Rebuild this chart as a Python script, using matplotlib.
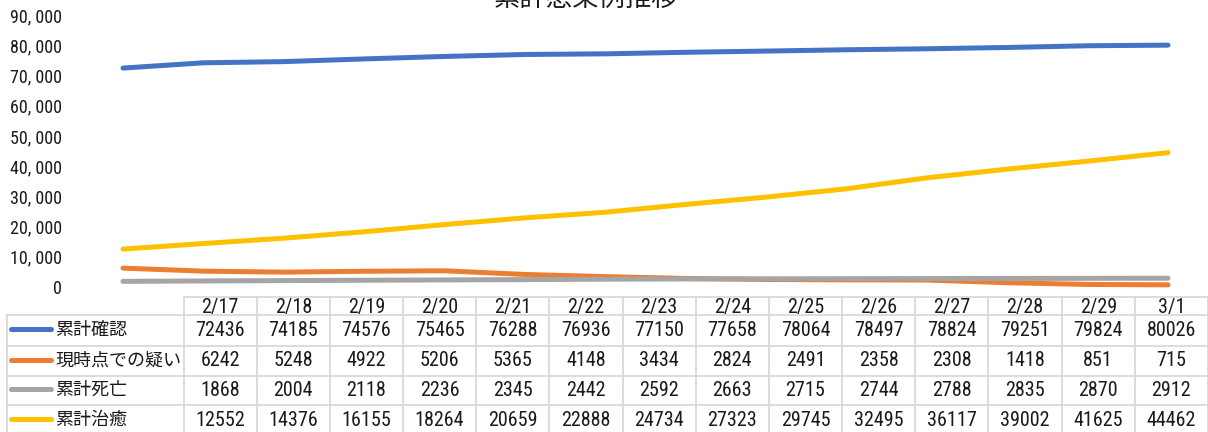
import matplotlib
import matplotlib.pyplot as plt
from matplotlib.ticker import FixedLocator

matplotlib.use("Agg")

# --- data ---
DATES = ["2/17", "2/18", "2/19", "2/20", "2/21", "2/22", "2/23",
         "2/24", "2/25", "2/26", "2/27", "2/28", "2/29", "3/1"]
CONFIRMED = [72436, 74185, 74576, 75465, 76288, 76936, 77150,
             77658, 78064, 78497, 78824, 79251, 79824, 80026]
SUSPECTED = [6242, 5248, 4922, 5206, 5365, 4148, 3434,
             2824, 2491, 2358, 2308, 1418, 851, 715]
DEATHS = [1868, 2004, 2118, 2236, 2345, 2442, 2592,
          2663, 2715, 2744, 2788, 2835, 2870, 2912]
RECOVERED = [12552, 14376, 16155, 18264, 20659, 22888, 24734,
             27323, 29745, 32495, 36117, 39002, 41625, 44462]
SERIES_NAMES = ["累計確認", "現時点での疑い", "累計死亡", "累計治癒"]
Y_TICKS = list(range(0, 90001, 10000))
TITLE = "累計感染例推移"

# --- style ---
COLORS = ["#4472C4", "#ED7D31", "#A5A5A5", "#FFC000"]
INK = "#1a1a1a"
GRID = "#d9d9d9"
NUM_FONT = ["Roboto Condensed", "Liberation Sans Narrow", "Noto Sans CJK JP", "DejaVu Sans"]
JP_FONT = ["Noto Sans CJK JP", "DejaVu Sans"]

W, H = 1208, 432
fig = plt.figure(figsize=(W / 100, H / 100), dpi=100)
fig.patch.set_facecolor("white")

# plot area in pixel terms
x0, x1 = 123, 1168
y_top, y_bot = 15, 287
ax = fig.add_axes([x0 / W, 1 - y_bot / H, (x1 - x0) / W, (y_bot - y_top) / H])
ax.set_xlim(0, len(DATES) - 1)
ax.set_ylim(0, 90000)
for vals, c in zip([CONFIRMED, SUSPECTED, DEATHS, RECOVERED], COLORS):
    ax.plot(range(len(vals)), vals, color=c, linewidth=3.6,
            solid_capstyle="round", solid_joinstyle="round", clip_on=False)
for s in ax.spines.values():
    s.set_visible(False)
ax.set_xticks([])
ax.yaxis.set_major_locator(FixedLocator(Y_TICKS))
ax.set_yticklabels([f"{v:,}".replace(",", ", ") for v in Y_TICKS],
                   family=NUM_FONT, fontsize=13, color=INK)
ax.tick_params(axis="y", length=0, pad=44)
ax.patch.set_alpha(0)

fig.text(586 / W, 1 + 2 / H, TITLE, ha="center", va="center",
         fontsize=19, family=JP_FONT, color=INK)

# --- data table ---
tax = fig.add_axes([0, 0, 1, 1], zorder=-1)
tax.set_xlim(0, W)
tax.set_ylim(H, 0)
tax.axis("off")

col0 = 183.5
cw = (W - col0) / len(DATES)
rows = [297, 315, 345.5, 375.5, 405, 435]
left = 7

# horizontal lines
tax.plot([col0, W], [rows[0]] * 2, color=GRID, lw=1.3)
for r in rows[1:]:
    tax.plot([left, W], [r] * 2, color=GRID, lw=1.3)
# vertical lines
tax.plot([left, left], [rows[1], rows[-1]], color=GRID, lw=1.3)
for k in range(len(DATES) + 1):
    xk = col0 + k * cw
    tax.plot([xk, xk], [rows[0], rows[-1]], color=GRID, lw=1.3)

for k, d in enumerate(DATES):
    tax.text(col0 + (k + 0.5) * cw, 307, d, ha="center", va="center",
             fontsize=14.5, family=NUM_FONT, color=INK)

for i, (name, vals, c) in enumerate(zip(SERIES_NAMES,
                                         [CONFIRMED, SUSPECTED, DEATHS, RECOVERED],
                                         COLORS)):
    yc = (rows[i + 1] + rows[i + 2]) / 2
    tax.plot([11, 51], [yc - 1, yc - 1], color=c, lw=3.6, solid_capstyle="round")
    tax.text(55, yc, name, ha="left", va="center", fontsize=13,
             family=JP_FONT, color=INK)
    for k, v in enumerate(vals):
        tax.text(col0 + (k + 0.5) * cw, yc, str(v), ha="center", va="center",
                 fontsize=14.5, family=NUM_FONT, color=INK)

fig.savefig("out.png", dpi=100)
